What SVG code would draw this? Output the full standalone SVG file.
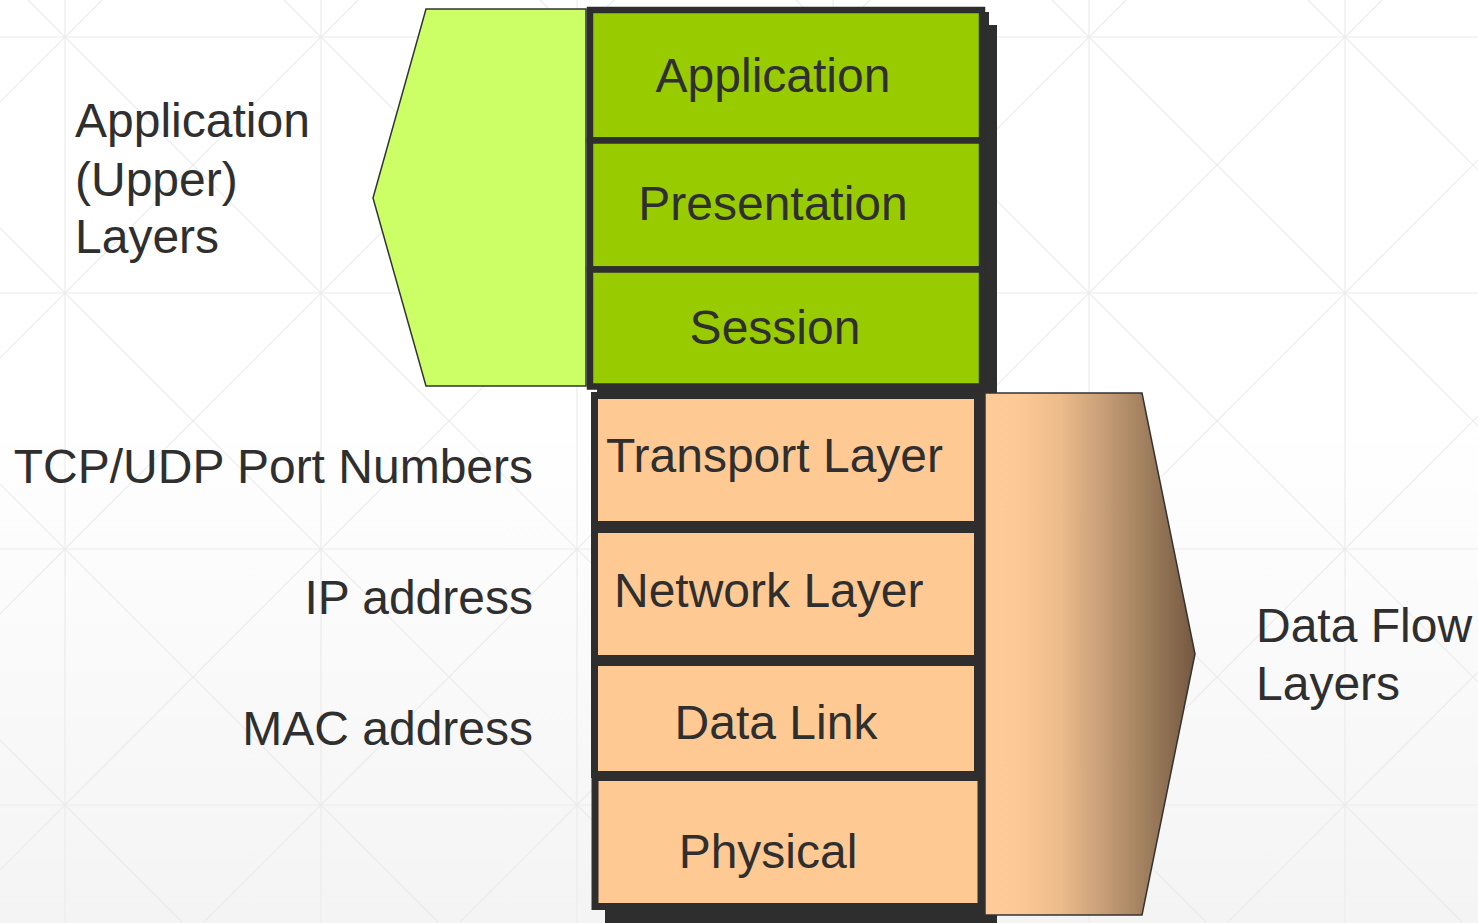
<svg xmlns="http://www.w3.org/2000/svg" width="1478" height="923" viewBox="0 0 1478 923">
<defs>
<linearGradient id="bg" x1="0" y1="0" x2="0" y2="1">
<stop offset="0" stop-color="#ffffff"/>
<stop offset="0.45" stop-color="#ffffff"/>
<stop offset="1" stop-color="#f4f4f4"/>
</linearGradient>
<linearGradient id="brown" gradientUnits="userSpaceOnUse" x1="985" y1="0" x2="1195" y2="0">
<stop offset="0" stop-color="#ffcc99"/>
<stop offset="0.17" stop-color="#fcc895"/>
<stop offset="0.36" stop-color="#ecbc8a"/>
<stop offset="0.55" stop-color="#c9a079"/>
<stop offset="0.79" stop-color="#9b7b5b"/>
<stop offset="1" stop-color="#745840"/>
</linearGradient>
<style>
.grid{stroke:#ebebeb;stroke-width:1.2;fill:none}
.green{fill:#99cc00;stroke:#2e2e2e;stroke-width:6.5}
.peach{fill:#ffc994;stroke:#2e2e2e;stroke-width:7}
.shadow{fill:#2e2e2e}
.t{font-family:"Liberation Sans",Arial,sans-serif;font-size:48px;fill:#2f2f2f}
.m{text-anchor:middle}
.e{text-anchor:end}
.bracket{stroke:#333333;stroke-width:1.5}
</style>
</defs>
<rect x="0" y="0" width="1478" height="923" fill="url(#bg)"/>
<g id="background-grid">
<path class="grid" d="M65 0V923M321 0V923M577 0V923M833 0V923M1089 0V923M1345 0V923M0 37H1478M0 293H1478M0 549H1478M0 805H1478"/>
<path class="grid" d="M-996 0L-73 923M-740 0L183 923M-484 0L439 923M-228 0L695 923M28 0L951 923M284 0L1207 923M540 0L1463 923M796 0L1719 923M1052 0L1975 923M1308 0L2231 923"/>
<path class="grid" d="M102 0L-821 923M358 0L-565 923M614 0L-309 923M870 0L-53 923M1126 0L203 923M1382 0L459 923M1638 0L715 923M1894 0L971 923M2150 0L1227 923M2406 0L1483 923"/>
</g>
<g id="upper-bracket">
<polygon class="bracket" points="426,9 586,9 586,386 426,386 373,198" fill="#ccff66"/>
</g>
<g id="upper-stack-shadow">
<path class="shadow" d="M981 12H989V25H997V396H597V389H981Z"/>
</g>
<g id="lower-stack-shadow">
<rect class="shadow" x="605" y="394" width="392" height="529"/>
</g>
<g id="application">
<rect class="green" x="590" y="10" width="392" height="130.5"/>
<text class="t m" x="773" y="92">Application</text>
</g>
<g id="presentation">
<rect class="green" x="590" y="140.5" width="392" height="129"/>
<text class="t m" x="773" y="220">Presentation</text>
</g>
<g id="session">
<rect class="green" x="590" y="269.5" width="392" height="117"/>
<text class="t m" x="775" y="344">Session</text>
</g>
<g id="transport">
<rect class="peach" x="594.5" y="395.5" width="383" height="129"/>
<text class="t" x="606" y="472">Transport Layer</text>
</g>
<g id="network">
<rect class="peach" x="594.5" y="529.5" width="383" height="129"/>
<text class="t" x="614" y="607">Network Layer</text>
</g>
<g id="datalink">
<rect class="peach" x="594.5" y="662.5" width="383" height="112"/>
<text class="t m" x="776" y="739">Data Link</text>
</g>
<g id="physical">
<rect class="peach" x="595" y="777.5" width="386" height="129"/>
<text class="t m" x="768" y="868">Physical</text>
</g>
<g id="dataflow-bracket">
<polygon class="bracket" points="985,393 1142,393 1195,654 1142,915 985,915" fill="url(#brown)"/>
</g>
<g id="labels">
<text class="t" x="75" y="137">Application</text>
<text class="t" x="75" y="196">(Upper)</text>
<text class="t" x="75" y="253">Layers</text>
<text class="t e" x="533" y="483">TCP/UDP Port Numbers</text>
<text class="t e" x="533" y="614">IP address</text>
<text class="t e" x="533" y="745">MAC address</text>
<text class="t" x="1256" y="642">Data Flow</text>
<text class="t" x="1256" y="700">Layers</text>
</g>
<g id="connectors"></g>
</svg>
